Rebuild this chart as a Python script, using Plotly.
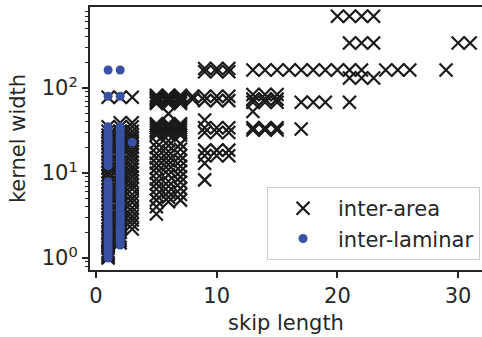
import plotly.graph_objects as go

# ---- data ----
# inter-area (black "x") kernel widths, one list per skip length
area_s1 = [1.0, 1.05, 1.1, 1.15, 1.2, 1.3, 1.4, 1.5, 1.6, 1.7, 1.8, 2.0, 2.2, 2.4, 2.6, 2.8,
           3.0, 3.3, 3.6, 4.0, 4.4, 4.8, 5.3, 5.8, 6.4, 7.0, 7.7, 8.5, 9.4, 10.3, 11.3, 12.4,
           13.6, 15, 16.5, 18, 20, 22, 24, 26, 28, 31, 35, 78]
area_s2 = [1.5, 1.6, 1.7, 1.8, 2.0, 2.2, 2.4, 2.6, 2.8, 3.0, 3.3, 3.6, 4.0, 4.4, 4.8, 5.3,
           5.8, 6.4, 7.0, 7.7, 8.5, 9.4, 10.3, 11.3, 12.4, 13.6, 15, 16.5, 18, 20, 22, 24,
           26, 28, 31, 35, 39, 78]
area_s3 = [2.2, 2.5, 2.8, 3.1, 3.5, 3.9, 4.5, 5.0, 5.6, 6.5, 7.2, 8.0, 9.0, 10.0, 11.0,
           12.0, 13.5, 15, 16.5, 18, 20, 22, 24, 26, 28, 31, 35, 39, 78]
area_s5 = [3.3, 4.0, 4.8, 5.5, 6.5, 7.5, 8.5, 10, 11.5, 13, 15, 17, 20, 23, 28, 30, 32, 34,
           36, 38, 66, 69, 72, 75, 78, 82]
area_s6 = [4.6, 5.2, 6.0, 7.0, 8.0, 9.5, 11, 12.5, 14, 16, 18, 21, 24, 28, 30, 32, 34, 36,
           38, 50, 66, 69, 72, 75, 78, 82]
area_s7 = [4.8, 5.6, 6.6, 7.8, 9.0, 10.5, 12, 14, 16, 19, 22, 28, 30, 32, 34, 36, 38,
           66, 69, 72, 75, 78, 82]
area_s8 = [74, 80]
area_s9 = [8.3, 13, 16, 18.6, 30, 34, 42, 71, 80, 155, 170]
area_s10 = [16, 18.6, 30, 34, 71, 80, 155, 170]
area_s11 = [16, 18.6, 30, 34, 71, 80, 155, 170]
area_s13 = [32, 34, 53, 68, 74, 84, 163]
area_s14 = [32, 34, 68, 74, 84, 163]
area_s15 = [32, 34, 68, 74, 84, 163]
area_s16 = [163]
area_s17 = [33, 68, 163]
area_s18 = [68, 163]
area_s19 = [68, 163]
area_s20 = [163, 700]
area_s21 = [68, 131, 163, 338, 700]
area_s22 = [131, 163, 338, 700]
area_s23 = [131, 338, 700]
area_s24 = [163]
area_s25 = [163]
area_s26 = [163]
area_s29 = [163]
area_s30 = [338]
area_s31 = [338]

# inter-laminar (blue dots)
lam_s1 = [1.0, 1.07, 1.15, 1.23, 1.32, 1.42, 1.53, 1.65, 1.78, 1.92, 2.07, 2.23, 2.4, 2.6,
          2.8, 3.0, 3.25, 3.5, 3.8, 4.1, 4.45, 4.8, 5.2, 5.6, 6.1, 6.6, 7.2, 7.9, 12.2, 13.3,
          14.5, 15.8, 17.2, 18.8, 20.5, 22.3, 24.3, 26.5, 29, 32, 35, 80, 163]
lam_s2 = [1.42, 1.53, 1.65, 1.78, 1.92, 2.07, 2.23, 2.4, 2.6, 2.8, 3.0, 3.25, 3.5, 3.8, 4.1,
          4.45, 4.8, 5.2, 5.6, 6.1, 6.6, 7.2, 7.9, 8.6, 9.4, 10.2, 11.1, 12.2, 13.3, 14.5,
          15.8, 17.2, 18.8, 20.5, 22.3, 24.3, 26.5, 29, 32, 35, 80, 163]
lam_s3 = [23]

area_cols = {1: area_s1, 2: area_s2, 3: area_s3, 5: area_s5, 6: area_s6, 7: area_s7,
             8: area_s8, 9: area_s9, 10: area_s10, 11: area_s11, 13: area_s13, 14: area_s14,
             15: area_s15, 16: area_s16, 17: area_s17, 18: area_s18, 19: area_s19,
             20: area_s20, 21: area_s21, 22: area_s22, 23: area_s23, 24: area_s24,
             25: area_s25, 26: area_s26, 29: area_s29, 30: area_s30, 31: area_s31}
lam_cols = {1: lam_s1, 2: lam_s2, 3: lam_s3}

ax_x, ax_y = [], []
for k, vals in area_cols.items():
    ax_x += [k] * len(vals)
    ax_y += vals
lx, ly = [], []
for k, vals in lam_cols.items():
    lx += [k] * len(vals)
    ly += vals

INK = "#262626"
FONT = "DejaVu Sans"

fig = go.Figure()
fig.add_trace(go.Scatter(
    x=ax_x, y=ax_y, mode="markers", name="inter-area",
    marker=dict(symbol="x-thin", size=13, color="#1a1a1a",
                line=dict(width=2.2, color="#1a1a1a")),
    legendgroup="a",
))
fig.add_trace(go.Scatter(
    x=lx, y=ly, mode="markers", name="inter-laminar",
    marker=dict(symbol="circle", size=9, color="#3a50a2", line=dict(width=0)),
    legendgroup="b",
))

fig.update_layout(
    width=482, height=337,
    margin=dict(l=90, r=0, t=7, b=67),
    paper_bgcolor="white", plot_bgcolor="white",
    font=dict(family=FONT, size=21, color=INK),
    showlegend=True,
    legend=dict(x=0.995, y=0.038, xanchor="right", yanchor="bottom",
                bgcolor="rgba(255,255,255,0.8)", bordercolor="#cccccc", borderwidth=1,
                font=dict(size=21, color=INK), itemwidth=60,
                tracegroupgap=0, traceorder="grouped"),
)
fig.update_xaxes(
    range=[-0.5, 31.98], showgrid=False, zeroline=False,
    showline=True, linecolor=INK, linewidth=2, mirror=True,
    ticks="outside", ticklen=6, tickwidth=1.5, tickcolor=INK,
    tickvals=[0, 10, 20, 30],
    title=dict(text="skip length", font=dict(size=21, color=INK), standoff=8),
)
fig.update_yaxes(
    type="log", range=[-0.141, 2.953], showgrid=False, zeroline=False,
    showline=True, linecolor=INK, linewidth=2,
    ticks="outside", ticklen=6, tickwidth=1.5, tickcolor=INK,
    tickvals=[1, 10, 100], ticktext=["10<sup>0</sup>", "10<sup>1</sup>", "10<sup>2</sup>"],
    minor=dict(ticks="outside", ticklen=3.5, tickwidth=1.2, tickcolor=INK, showgrid=False,
               tickvals=[0.8, 0.9, 2, 3, 4, 5, 6, 7, 8, 9, 20, 30, 40, 50, 60, 70, 80, 90,
                         200, 300, 400, 500, 600, 700, 800]),
    title=dict(text="kernel width", font=dict(size=21, color=INK), standoff=10),
)

fig.write_html("out.html")
